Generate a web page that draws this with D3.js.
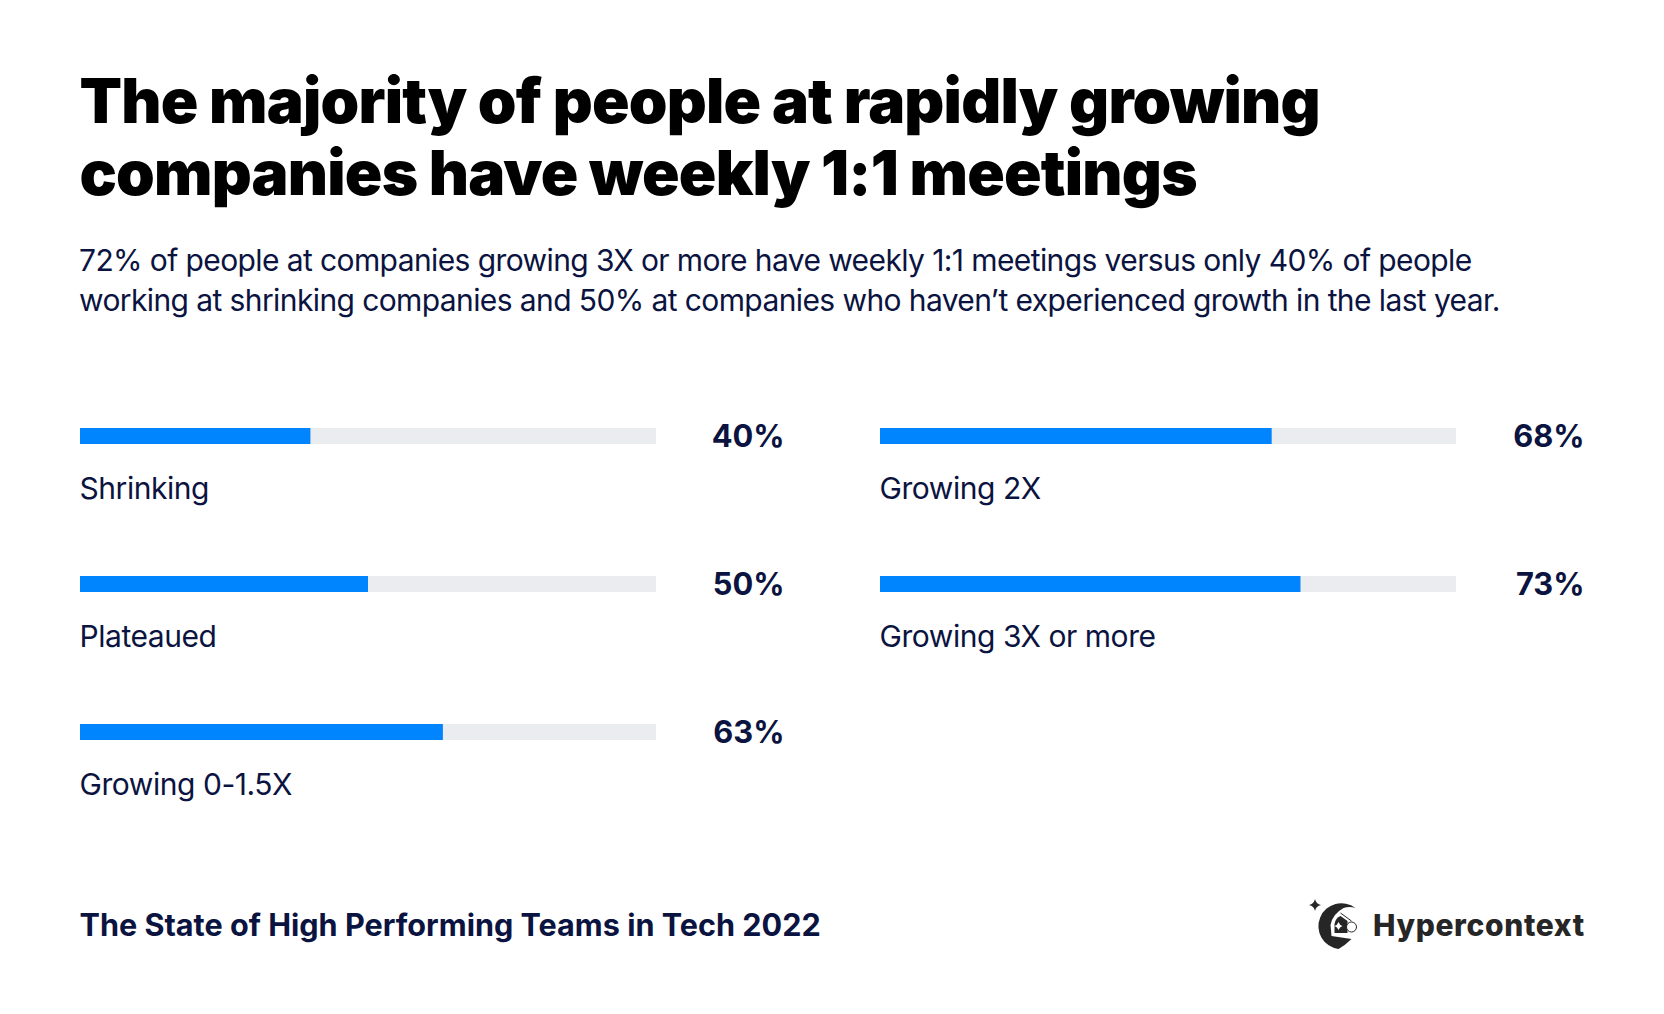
<!DOCTYPE html>
<html>
<head>
<meta charset="utf-8">
<script src="https://cdn.jsdelivr.net/npm/d3@7"></script>
<style>
  html, body { margin: 0; padding: 0; background: #fff; }
  text { font-family: Inter, "Noto Sans", sans-serif; }
</style>
</head>
<body>
<div id="chart"></div>
<script>
var titleLines = ["The majority of people at rapidly growing", "companies have weekly 1:1 meetings"];
var subtitleLines = [
  "72% of people at companies growing 3X or more have weekly 1:1 meetings versus only 40% of people",
  "working at shrinking companies and 50% at companies who haven\u2019t experienced growth in the last year."
];
var categories = ["Shrinking", "Plateaued", "Growing 0-1.5X", "Growing 2X", "Growing 3X or more"];
var values = [40, 50, 63, 68, 73];
var columns = [0, 0, 0, 1, 1];
var rows = [0, 1, 2, 0, 1];
var footer = "The State of High Performing Teams in Tech 2022";
var brand = "Hypercontext";

var width = 1664, height = 1014;
var navy = "#0b1340", blue = "#0085ff", track = "#ebecf0";
var barW = 576, barH = 16;

var svg = d3.select("#chart")
  .append("svg")
    .attr("width", width)
    .attr("height", height)
    .style("display", "block");

svg.selectAll(".title")
  .data(titleLines)
  .enter()
  .append("text")
    .attr("class", "title")
    .attr("x", 79.5)
    .attr("y", function(d, i) { return 123 + i * 72; })
    .attr("font-size", 62)
    .attr("font-weight", 900)
    .attr("letter-spacing", -0.79)
    .attr("fill", "#000")
    .text(function(d) { return d; });

svg.selectAll(".subtitle")
  .data(subtitleLines)
  .enter()
  .append("text")
    .attr("class", "subtitle")
    .attr("x", 79)
    .attr("y", function(d, i) { return 271 + i * 40; })
    .attr("font-size", 30)
    .attr("letter-spacing", -0.6)
    .attr("fill", navy)
    .text(function(d) { return d; });

// each panel is one small bar on a 0-100 scale
var x = d3.scaleLinear().domain([0, 100]).range([0, barW]);
var col = d3.scaleOrdinal().domain([0, 1]).range([80, 880]);
var row = d3.scaleLinear().domain([0, 2]).range([428, 724]);

var bar = svg.selectAll(".bar")
  .data(categories)
  .enter()
  .append("g")
    .attr("class", "bar")
    .attr("transform", function(d, i) {
      return "translate(" + col(columns[i]) + "," + row(rows[i]) + ")";
    });

bar.append("rect")
    .attr("width", x(100))
    .attr("height", barH)
    .attr("fill", track);

bar.append("rect")
    .attr("width", function(d, i) { return x(values[i]); })
    .attr("height", barH)
    .attr("fill", blue);

bar.append("text")
    .attr("x", barW + 128.5)
    .attr("y", 19)
    .attr("text-anchor", "end")
    .attr("font-size", 30.8)
    .attr("font-weight", 700)
    .attr("fill", navy)
    .text(function(d, i) { return values[i] + "%"; });

bar.append("text")
    .attr("x", -0.5)
    .attr("y", 71)
    .attr("font-size", 30)
    .attr("letter-spacing", -0.45)
    .attr("fill", navy)
    .text(function(d) { return d; });

svg.append("text")
    .attr("x", 79.5)
    .attr("y", 936)
    .attr("font-size", 30.6)
    .attr("font-weight", 700)
    .attr("fill", navy)
    .text(footer);

// logo
var logo = svg.append("g").attr("fill", "#262626");
logo.append("path")
    .attr("d", "M1315 899 Q1316 904 1321 905 Q1316 906 1315 911 Q1314 906 1309 905 Q1314 904 1315 899 Z");
var mark = logo.append("g").attr("transform", "translate(-1.5,0)");
mark.append("path")
    .attr("d", "M1357 908 A23 23 0 1 0 1340 949 Q1347 945 1353 939 L1333 936 L1332 925 Q1334 914 1345 908 Q1351 906 1357 908 Z");
mark.append("path")
    .attr("d", "M1336 933 L1336 924 Q1337 918 1342 916 L1349 921 L1349 933 Z");
mark.append("path")
    .attr("fill", "#fff")
    .attr("d", "M1340 922 Q1341 925 1344 926 Q1341 927 1340 930 Q1339 927 1336 926 Q1339 925 1340 922 Z");
mark.append("path")
    .attr("fill", "none")
    .attr("stroke", "#262626")
    .attr("stroke-width", 1)
    .attr("d", "M1342 913 L1353 921");
mark.append("circle")
    .attr("cx", 1353).attr("cy", 927).attr("r", 5)
    .attr("fill", "#fff").attr("stroke", "#262626").attr("stroke-width", 1);

svg.append("text")
    .attr("x", 1373)
    .attr("y", 936)
    .attr("font-size", 30)
    .attr("font-weight", 800)
    .attr("letter-spacing", 0.65)
    .attr("fill", "#262626")
    .text(brand);
</script>
</body>
</html>
